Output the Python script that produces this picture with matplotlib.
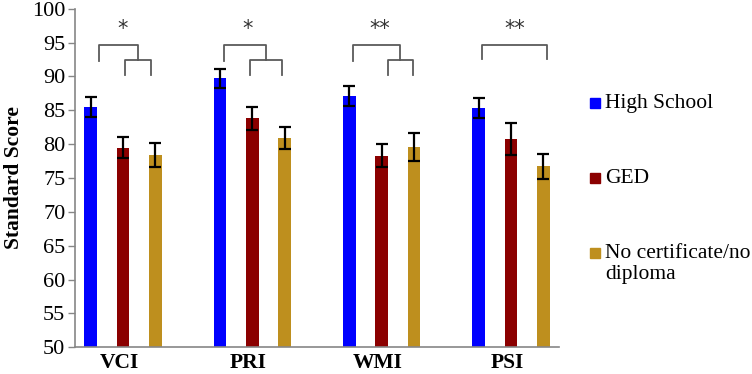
import matplotlib
matplotlib.use('agg')
import matplotlib.pyplot as plt
from matplotlib.patches import Rectangle
import numpy as np

categories = ['VCI', 'PRI', 'WMI', 'PSI']
groups = ['High School', 'GED', 'No certificate/no\ndiploma']

high_school = [85.5, 89.7, 87.1, 85.3]
high_school_err = [1.45, 1.45, 1.5, 1.5]
ged = [79.5, 83.8, 78.3, 80.75]
ged_err = [1.55, 1.7, 1.7, 2.35]
no_diploma = [78.4, 80.9, 79.6, 76.7]
no_diploma_err = [1.8, 1.65, 2.05, 1.9]

stars = ['*', '*', '**', '**']

colors = ['#0000FF', '#8B0000', '#BE8F1E']
SERIF = 'Liberation Serif'

# bracket geometry relative to each category centre: (outer left, outer right, inner left, inner right)
brackets = [(-0.188, 0.115, 0.015, 0.216),
            (-0.217, 0.108, -0.016, 0.233),
            (-0.223, 0.145, 0.048, 0.241),
            (-0.224, 0.278, None, None)]
star_dx = [0.0, -0.037, -0.017, 0.03]

fig = plt.figure(figsize=(7.52, 3.74), dpi=100)
ax = fig.add_axes([75 / 752, 1 - 347.3 / 374, (559 - 75) / 752, (347.3 - 8.7) / 374])

x = np.arange(len(categories))
offset = 0.25
width = 0.097
series = [(high_school, high_school_err), (ged, ged_err), (no_diploma, no_diploma_err)]
for i, (vals, errs) in enumerate(series):
    ax.bar(x + (i - 1) * offset, vals, width, color=colors[i], zorder=2)
    ax.errorbar(x + (i - 1) * offset, vals, yerr=errs, fmt='none', ecolor='black',
                elinewidth=1.6, capsize=4, capthick=1.6, zorder=3)

ax.set_ylim(50, 100)
ax.set_xlim(-0.37, 3.37)
ax.set_yticks(range(50, 101, 5))
ax.set_xticks(x - 0.03)
ax.set_xticklabels(categories, fontfamily=SERIF, fontweight='bold', fontsize=15.5)
for lbl in ax.get_yticklabels():
    lbl.set_fontfamily(SERIF)
    lbl.set_fontsize(16)
ax.tick_params(axis='y', direction='out', length=5, width=1, color='#868686', pad=2)
ax.tick_params(axis='x', length=0, pad=4)
ax.spines['top'].set_visible(False)
ax.spines['right'].set_visible(False)
ax.spines['left'].set_color('#868686')
ax.spines['bottom'].set_color('#868686')
ax.spines['left'].set_linewidth(1.2)
ax.spines['bottom'].set_linewidth(1.2)
ax.set_ylabel('Standard Score', fontfamily=SERIF, fontweight='bold', fontsize=15.5, labelpad=6)

# significance brackets
bcol = '#5a5a5a'
for i, (ol, orr, il, ir) in enumerate(brackets):
    if il is not None:
        ax.plot([i + ol, i + ol, i + orr, i + orr], [92.35, 94.65, 94.65, 92.4],
                color=bcol, lw=1.3, clip_on=False)
        ax.plot([i + il, i + il, i + ir, i + ir], [90.2, 92.4, 92.4, 90.2],
                color=bcol, lw=1.3, clip_on=False)
    else:
        ax.plot([i + ol, i + ol, i + orr, i + orr], [92.5, 94.65, 94.65, 92.5],
                color=bcol, lw=1.3, clip_on=False)
    ax.text(i + star_dx[i], 97.0, stars[i], ha='center', va='center',
            fontfamily='DejaVu Sans', fontsize=15, color='#333333')

# legend
ys = [103, 178, 253]
for i, lab in enumerate(groups):
    yc = ys[i]
    fig.add_artist(Rectangle((590 / 752, 1 - (yc + 5) / 374), 10 / 752, 10 / 374,
                             transform=fig.transFigure, color=colors[i]))
    fig.text(605 / 752, 1 - (yc - 9) / 374, lab, ha='left', va='top',
             fontfamily=SERIF, fontsize=15.5, linespacing=1.15)

fig.savefig('out.png', dpi=100)
